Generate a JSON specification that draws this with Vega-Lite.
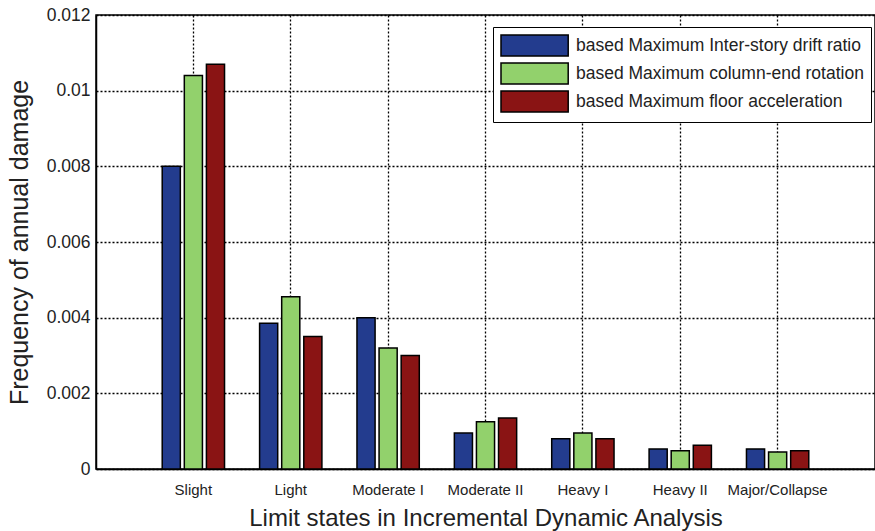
{
  "$schema": "https://vega.github.io/schema/vega-lite/v6.json",
  "autosize": {"type": "none"},
  "padding": {"left": 96, "top": 15, "right": 0, "bottom": 62},
  "width": 779,
  "height": 454,
  "background": "white",
  "config": {
    "font": "Liberation Sans",
    "view": {"stroke": "black", "strokeWidth": 1.5},
    "axis": {
      "labelFont": "Liberation Sans",
      "titleFont": "Liberation Sans",
      "labelColor": "#222",
      "titleColor": "#222",
      "titleFontWeight": "normal",
      "domainColor": "black",
      "domainWidth": 1.5,
      "gridColor": "black",
      "gridDash": [2, 2],
      "gridWidth": 1.3,
      "gridOpacity": 1,
      "ticks": false
    }
  },
  "data": {
    "values": [
      {"state": "Slight", "measure": "based Maximum Inter-story drift ratio", "value": 0.0080},
      {"state": "Slight", "measure": "based Maximum column-end rotation", "value": 0.0104},
      {"state": "Slight", "measure": "based Maximum floor acceleration", "value": 0.0107},
      {"state": "Light", "measure": "based Maximum Inter-story drift ratio", "value": 0.00385},
      {"state": "Light", "measure": "based Maximum column-end rotation", "value": 0.00455},
      {"state": "Light", "measure": "based Maximum floor acceleration", "value": 0.0035},
      {"state": "Moderate I", "measure": "based Maximum Inter-story drift ratio", "value": 0.0040},
      {"state": "Moderate I", "measure": "based Maximum column-end rotation", "value": 0.0032},
      {"state": "Moderate I", "measure": "based Maximum floor acceleration", "value": 0.0030},
      {"state": "Moderate II", "measure": "based Maximum Inter-story drift ratio", "value": 0.00095},
      {"state": "Moderate II", "measure": "based Maximum column-end rotation", "value": 0.00125},
      {"state": "Moderate II", "measure": "based Maximum floor acceleration", "value": 0.00135},
      {"state": "Heavy I", "measure": "based Maximum Inter-story drift ratio", "value": 0.0008},
      {"state": "Heavy I", "measure": "based Maximum column-end rotation", "value": 0.00095},
      {"state": "Heavy I", "measure": "based Maximum floor acceleration", "value": 0.0008},
      {"state": "Heavy II", "measure": "based Maximum Inter-story drift ratio", "value": 0.00053},
      {"state": "Heavy II", "measure": "based Maximum column-end rotation", "value": 0.00048},
      {"state": "Heavy II", "measure": "based Maximum floor acceleration", "value": 0.00063},
      {"state": "Major/Collapse", "measure": "based Maximum Inter-story drift ratio", "value": 0.00053},
      {"state": "Major/Collapse", "measure": "based Maximum column-end rotation", "value": 0.00045},
      {"state": "Major/Collapse", "measure": "based Maximum floor acceleration", "value": 0.00048}
    ]
  },
  "mark": {"type": "bar", "stroke": "black", "strokeWidth": 1.5},
  "encoding": {
    "x": {
      "field": "state",
      "type": "nominal",
      "sort": ["Slight", "Light", "Moderate I", "Moderate II", "Heavy I", "Heavy II", "Major/Collapse"],
      "scale": {"paddingInner": 0.36, "paddingOuter": 0.68},
      "axis": {
        "title": "Limit states in Incremental Dynamic Analysis",
        "titleFontSize": 24,
        "titlePadding": 9,
        "labelFontSize": 15,
        "labelAngle": 0,
        "labelPadding": 13,
        "grid": true,
        "bandPosition": 0.5
      }
    },
    "xOffset": {
      "field": "measure",
      "type": "nominal",
      "sort": ["based Maximum Inter-story drift ratio", "based Maximum column-end rotation", "based Maximum floor acceleration"],
      "scale": {"paddingInner": 0.18, "paddingOuter": 0}
    },
    "y": {
      "field": "value",
      "type": "quantitative",
      "scale": {"domain": [0, 0.012], "nice": false},
      "axis": {
        "title": "Frequency of annual damage",
        "titleFontSize": 25,
        "titleX": -64,
        "titleBaseline": "bottom",
        "labelFontSize": 17.5,
        "labelPadding": 6,
        "values": [0, 0.002, 0.004, 0.006, 0.008, 0.01, 0.012],
        "format": "~g",
        "grid": true
      }
    },
    "color": {
      "field": "measure",
      "type": "nominal",
      "sort": ["based Maximum Inter-story drift ratio", "based Maximum column-end rotation", "based Maximum floor acceleration"],
      "scale": {"range": ["#233C8E", "#92D16C", "#8A1414"]},
      "legend": {
        "title": null,
        "orient": "none",
        "legendX": 397,
        "legendY": 12,
        "padding": 7,
        "strokeColor": "black",
        "fillColor": "white",
        "symbolType": "M-1,-1H5.4V1H-1Z",
        "symbolSize": 441,
        "symbolStrokeColor": "black",
        "symbolStrokeWidth": 1.5,
        "symbolOpacity": 1,
        "labelOffset": 53,
        "labelFontSize": 17.5,
        "labelColor": "#222",
        "labelLimit": 400,
        "rowPadding": 1
      }
    }
  }
}
